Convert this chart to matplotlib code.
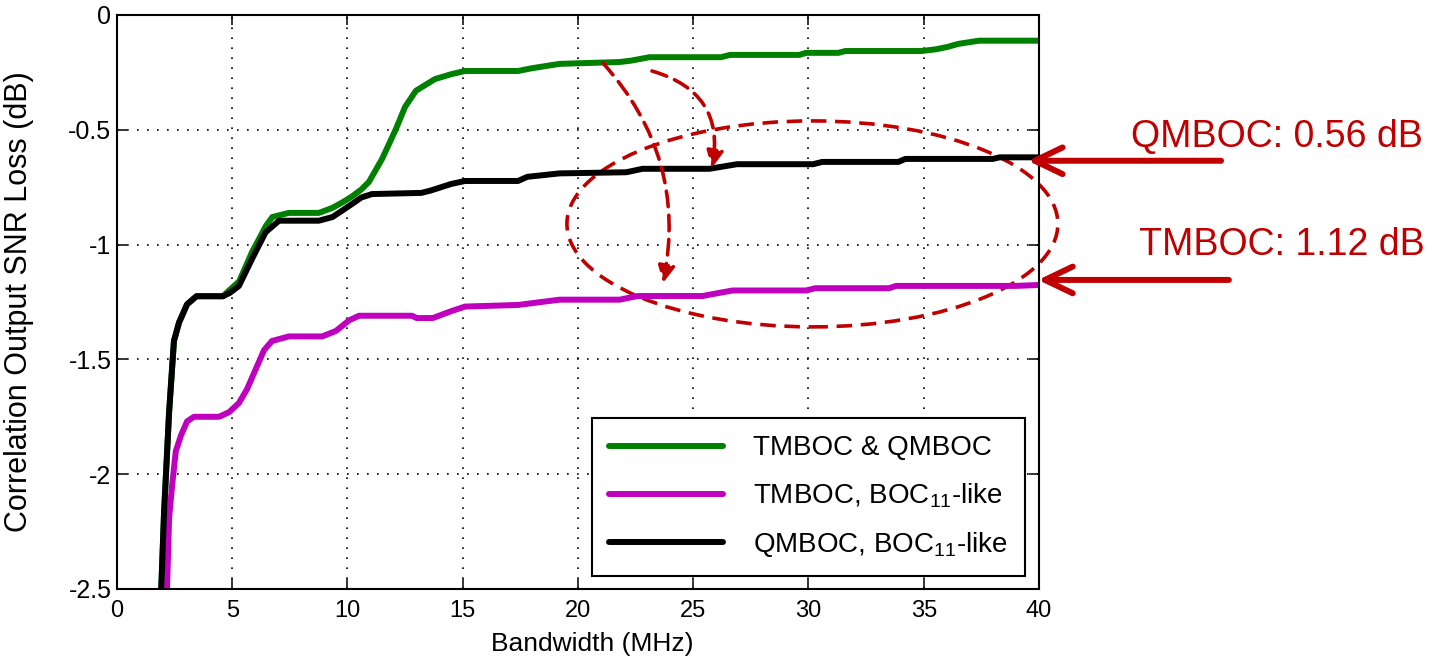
import numpy as np
import matplotlib
matplotlib.use("Agg")
import matplotlib.pyplot as plt
from matplotlib.patches import Ellipse

plt.rcParams["font.family"] = ["Liberation Sans", "DejaVu Sans"]
plt.rcParams["mathtext.fontset"] = "custom"
plt.rcParams["mathtext.rm"] = "Liberation Sans"
plt.rcParams["mathtext.it"] = "Liberation Sans"
plt.rcParams["axes.unicode_minus"] = False

# curves (bandwidth in MHz, loss in dB)
green_x = [1.92, 2.04, 2.26, 2.47, 2.69, 3.04, 3.45, 4.6, 4.86, 5.3, 5.87, 6.16, 6.45,
           6.74, 7.46, 8.76, 9.35, 9.8, 10.2, 10.6, 10.93, 11.5, 12.1, 12.5, 12.97,
           13.8, 14.5, 15.1, 17.4, 18.0, 19.2, 21.8, 22.3, 23.1, 26.2, 26.6, 29.6,
           29.9, 31.3, 31.6, 34.9, 35.5, 36.0, 36.5, 37.4, 40.0]
green_y = [-2.5, -2.17, -1.73, -1.42, -1.34, -1.26, -1.225, -1.225, -1.20, -1.16,
           -1.03, -0.976, -0.92, -0.88, -0.862, -0.862, -0.84, -0.815, -0.79, -0.76,
           -0.727, -0.627, -0.497, -0.40, -0.33, -0.279, -0.258, -0.244, -0.244,
           -0.232, -0.213, -0.205, -0.199, -0.184, -0.184, -0.174, -0.174, -0.165,
           -0.165, -0.157, -0.157, -0.15, -0.14, -0.126, -0.112, -0.112]

magenta_x = [2.17, 2.26, 2.39, 2.55, 2.78, 3.04, 3.34, 4.43, 4.86, 5.29, 5.64, 6.03,
             6.38, 6.72, 7.46, 8.9, 9.5, 10.07, 10.5, 12.8, 13.0, 13.7, 14.5, 15.1,
             17.4, 19.2, 21.8, 22.6, 25.4, 26.7, 29.9, 30.3, 33.5, 33.8, 39.0, 40.0]
magenta_y = [-2.5, -2.19, -2.05, -1.90, -1.83, -1.77, -1.75, -1.75, -1.73, -1.69,
             -1.63, -1.54, -1.46, -1.42, -1.40, -1.40, -1.376, -1.33, -1.31, -1.31,
             -1.32, -1.32, -1.29, -1.27, -1.263, -1.24, -1.24, -1.224, -1.224, -1.20,
             -1.20, -1.19, -1.19, -1.18, -1.18, -1.176]

black_x = [1.92, 2.04, 2.26, 2.47, 2.69, 3.04, 3.45, 4.6, 4.9, 5.29, 5.87, 6.45, 7.03,
           8.76, 9.35, 9.8, 10.2, 10.6, 11.06, 13.2, 13.6, 14.5, 15.1, 17.4, 17.8,
           19.2, 22.1, 22.8, 25.7, 26.9, 30.2, 30.6, 33.9, 34.2, 38.0, 38.3, 40.0]
black_y = [-2.5, -2.17, -1.73, -1.42, -1.34, -1.26, -1.225, -1.225, -1.21, -1.18,
           -1.06, -0.946, -0.896, -0.896, -0.88, -0.85, -0.823, -0.795, -0.78, -0.775,
           -0.765, -0.736, -0.723, -0.723, -0.705, -0.69, -0.685, -0.67, -0.67, -0.65,
           -0.65, -0.64, -0.64, -0.627, -0.627, -0.62, -0.62]

labels = ["TMBOC & QMBOC", "TMBOC, BOC$_{11}$-like", "QMBOC, BOC$_{11}$-like"]
x_ticks = [0, 5, 10, 15, 20, 25, 30, 35, 40]
y_ticks = [-2.5, -2, -1.5, -1, -0.5, 0]
y_ticklabels = ["-2.5", "-2", "-1.5", "-1", "-0.5", "0"]

red = "#C00000"
dash = (0, (4.3, 2.4))

fig = plt.figure(figsize=(14.41, 6.62), dpi=100)
ax = fig.add_axes([0.0812, 0.1103, 0.6398, 0.8671])

ax.plot(green_x, green_y, color="#008000", lw=4.3, label=labels[0], solid_capstyle="round")
ax.plot(magenta_x, magenta_y, color="#BF00BF", lw=4.3, label=labels[1], solid_capstyle="round")
ax.plot(black_x, black_y, color="black", lw=4.3, label=labels[2], solid_capstyle="round")

ax.set_xlim(0, 40)
ax.set_ylim(-2.5, 0)
ax.set_xticks(x_ticks)
ax.set_xticklabels([str(t) for t in x_ticks])
ax.set_yticks(y_ticks)
ax.set_yticklabels(y_ticklabels)
ax.tick_params(direction="in", length=7, width=1.1, top=True, right=True, labelsize=17)
ax.tick_params(axis="x", pad=8)
ax.tick_params(axis="y", pad=4, labelsize=18)
for s in ax.spines.values():
    s.set_linewidth(1.5)
ax.grid(True, color="black", linestyle=(0, (1, 5)), lw=1.2)
ax.set_axisbelow(True)

ax.set_xlabel("Bandwidth (MHz)", fontsize=19)
ax.set_ylabel("Correlation Output SNR Loss (dB)", fontsize=22)
ax.xaxis.set_label_coords(0.515, -0.075)
ax.yaxis.set_label_coords(-0.09, 0.5)

leg = ax.legend(loc="lower right", bbox_to_anchor=(0.985, 0.0226), fontsize=20,
                handlelength=4.1, handletextpad=1.1, labelspacing=0.72, borderpad=0.62,
                fancybox=False, framealpha=1, edgecolor="black", borderaxespad=0)
leg.get_frame().set_linewidth(1.5)

# dashed ellipse around the two lower curves
ell = Ellipse((30.17, -0.91), 21.3, 0.897, fill=False, edgecolor=red, lw=2.6,
              linestyle=dash, clip_on=False)
ax.add_patch(ell)

# dashed curved arrows from the green curve
ax.annotate("", xy=(23.69, -1.167), xytext=(21.08, -0.209),
            arrowprops=dict(arrowstyle="-|>,head_length=0.5,head_width=0.25",
                            color=red, lw=2.6, linestyle=dash,
                            connectionstyle="arc3,rad=-0.25", mutation_scale=20,
                            shrinkA=0, shrinkB=0))
ax.annotate("", xy=(25.81, -0.666), xytext=(23.21, -0.244),
            arrowprops=dict(arrowstyle="-|>,head_length=0.5,head_width=0.25",
                            color=red, lw=2.6, linestyle=dash,
                            connectionstyle="arc3,rad=-0.45", mutation_scale=20,
                            shrinkA=0, shrinkB=0))

# solid arrows + text on the right
ax.annotate("", xy=(39.52, -0.635), xytext=(47.9, -0.635), annotation_clip=False,
            arrowprops=dict(arrowstyle="->,head_length=1.0,head_width=0.48", color=red,
                            lw=4.3, mutation_scale=20, shrinkA=0, shrinkB=0))
ax.annotate("", xy=(39.96, -1.154), xytext=(48.24, -1.154), annotation_clip=False,
            arrowprops=dict(arrowstyle="->,head_length=1.0,head_width=0.48", color=red,
                            lw=4.3, mutation_scale=20, shrinkA=0, shrinkB=0))
ax.text(56.66, -0.575, "QMBOC: 0.56 dB", color=red, fontsize=27, ha="right",
        va="baseline", clip_on=False)
ax.text(56.75, -1.045, "TMBOC: 1.12 dB", color=red, fontsize=27, ha="right",
        va="baseline", clip_on=False)

fig.savefig("out.png", dpi=100)
